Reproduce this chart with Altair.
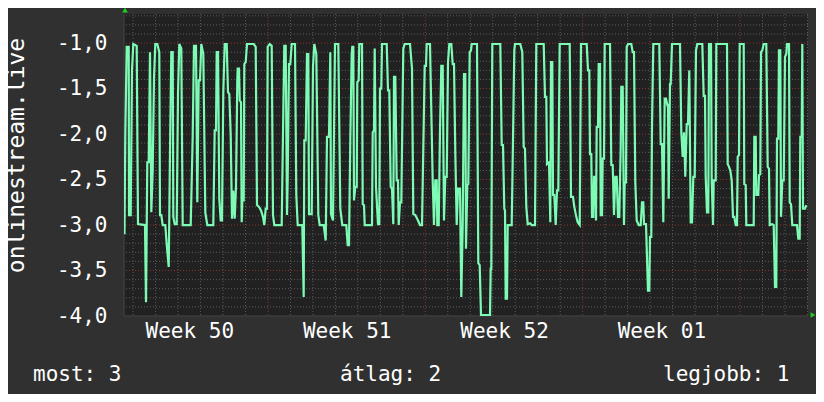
import altair as alt
import pandas as pd

# RRD sample index (one sample ~64 min) and value
t = [0.5, 1.3, 2.7, 4.7, 5, 6.7, 7, 8, 9.3, 12.7, 14, 21, 22, 23.3, 24.7, 26, 27.3, 28.7, 30, 31.3, 33.3, 35.3, 36, 37.3, 38.7, 41.3, 42.7, 44.7, 45.3, 46, 47.3, 48.7, 49.3, 50.7, 52.7, 54, 55.3, 57.3, 58.7, 66.7, 68.7, 70, 72, 73.3, 74.7, 76, 77.3, 79.3, 81.3, 83.3, 89.3, 90.7, 92, 92.7, 94, 95.3, 96.7, 98, 99.3, 100.7, 102.7, 104, 105.3, 106.7, 108, 109.3, 110.7, 112, 113.3,
     113.7, 115, 115.7, 117, 117.7, 118.3, 119.7, 120.3, 121.7, 123, 129.7, 131.7, 133, 135, 137, 139, 140.3, 141.7, 143, 143.7, 145.7, 147.7, 149, 150.3, 157.7, 159, 160.3, 161.7, 163, 163.7, 165, 166.3, 167.7, 171, 172.3, 173.7, 178.3, 179.7, 180.3, 181.7, 183, 184.3, 185, 187.7, 189, 190.3, 192.3, 194.3, 195.7, 199.7, 201.7, 203, 205, 206.3, 207, 209, 211, 214.3, 216.3, 218.3, 222.3, 223.7, 225, 226.3, 227.7,
     228.3, 229.3, 230, 231.3, 232.7, 233.3, 234.7, 235.3, 238, 238.7, 240, 240.7, 248, 248.7, 250, 250.7, 252, 254, 255.3, 256, 257.3, 258, 262.7, 264, 265.3, 266.7, 268, 269.3, 270, 271.3, 272.7, 274, 274.7, 276, 277.3, 279.3, 280.7, 286, 288, 289.3, 291.3, 294, 296, 298, 300.7, 302, 302.7, 306, 307.3, 308.7, 310, 311.3, 312.7, 313.3, 314.7, 316, 317.3, 318.7, 320, 321.3, 322.7, 324, 325.3, 327.3, 328.7, 330, 331.3, 332.7, 334, 336, 337.3, 338.7, 340, 341.3, 342, 343.3,
     344.3, 345.7, 347, 347.7, 353, 354.3, 355.7, 357, 366, 366.7, 367.3, 368.3, 376.3, 377.7, 379, 380.3, 381, 381.7, 383, 383.7, 387.7, 389, 390.3, 391, 396.3, 398.3, 399.7, 401, 402.3, 403.7, 406.3, 407.7, 411, 412.3, 419.7, 421, 422.3, 423, 425, 426.3, 427, 428.3, 429, 430.3, 431.7, 433, 434.3, 435.7, 445.7, 447, 449, 450.3, 452.3, 453.7, 455.7, 457,
     457.3, 462.7, 464, 465.3, 466, 467.3, 468, 469.3, 470, 471.3, 472, 472.7, 474, 474.7, 476, 476.7, 478, 478.7, 480, 480.7, 486, 487.3, 488.7, 490, 491.3, 492.7, 494, 495.3, 496.7, 497.3, 498.7, 500, 500.7, 502, 502.7, 504, 507.3, 508.7, 510, 511.3, 512.7, 514.7, 516.7, 518, 519.3, 520, 522, 524, 525.3, 526, 527.3, 528, 529.3, 535.3, 536.7, 538, 539.3, 540.7, 542, 543.3, 544, 544.7, 546, 546.7, 548, 556, 557.3, 558.7, 560, 561.3, 562.7, 564, 565.3, 566.7, 568, 569.3, 570.7, 572, 573.3,
     578.3, 579.7, 581, 581.7, 583, 584.3, 585, 587, 587.7, 589, 589.7, 591.7, 592.3, 603, 603.7, 605, 606.3, 607.7, 609, 610.3, 611.7, 613, 613.7, 615, 615.7, 619.7, 620.3, 621.7, 622.3, 629.7, 630.3, 631.7, 632.3, 634.3, 635, 636.3, 637, 638.3, 639.7, 642.3, 643.7, 645, 645.7, 648.3, 649.7, 651, 652.3, 653, 654.3, 655, 656.3, 657, 658.3, 659.7, 661, 662.3, 663, 665, 665.7, 667, 668.3, 673, 674.3, 675.7, 676.3, 677.7, 678.3, 679, 681, 682.3]

v = [-3.1, -2.0, -1.04, -1.04, -2.89, -2.89, -2.49, -1.30, -1.01, -1.03, -2.99, -3.0, -3.85, -2.31, -2.31, -1.10, -2.86, -2.40, -1.39, -1.01, -1.01, -1.10, -2.89, -2.89, -3.0, -3.0, -3.21, -3.46, -2.91, -2.20, -1.10, -1.10, -2.91, -2.99, -2.99, -1.56, -1.01, -1.06, -3.0, -3.0, -2.03, -1.03, -1.03, -2.75, -1.41, -1.41, -1.01, -1.12, -2.86, -3.0, -3.0, -1.96, -1.96, -1.10, -1.10, -2.71, -2.95, -2.95, -1.54, -1.01, -1.01, -1.54, -1.56, -2.01, -2.93, -2.62, -2.93, -2.58, -1.41,
     -1.28, -1.28, -1.63, -1.65, -2.97, -2.73, -2.73, -1.23, -1.21, -1.01, -1.01, -1.04, -2.78, -2.80, -2.84, -2.91, -3.0, -2.82, -2.82, -1.04, -1.01, -1.03, -2.89, -3.0, -3.0, -2.0, -1.03, -1.03, -2.89, -2.49, -1.23, -1.23, -1.01, -1.01, -2.67, -3.0, -3.0, -3.79, -2.07, -2.07, -1.12, -1.12, -2.88, -2.88, -1.26, -1.01, -1.12, -2.89, -3.0, -3.0, -3.17, -2.03, -2.03, -1.10, -2.88, -2.95, -1.01, -1.01, -2.82, -3.0, -3.0, -3.22, -3.22, -2.07, -1.12,
     -1.04, -1.04, -2.73, -2.58, -2.58, -1.43, -1.41, -1.01, -1.01, -2.77, -2.78, -3.0, -3.0, -1.98, -1.96, -1.06, -2.58, -2.99, -2.99, -1.50, -1.50, -1.01, -1.01, -1.52, -1.52, -2.58, -2.60, -2.99, -1.37, -1.37, -2.51, -2.51, -3.0, -2.75, -2.75, -1.06, -1.01, -1.01, -1.28, -2.88, -2.89, -2.95, -3.0, -3.0, -1.25, -1.25, -1.01, -1.01, -1.74, -2.51, -3.0, -2.51, -2.51, -3.0, -3.0, -1.96, -1.25, -1.25, -2.95, -2.47, -2.47, -1.21, -1.01, -1.01, -1.23, -1.23, -2.20, -3.0, -2.60, -2.60, -3.79, -3.0, -1.34, -1.34, -3.26, -2.56,
     -2.55, -1.10, -1.08, -1.01, -1.01, -3.42, -3.44, -3.99, -3.99, -3.48, -3.48, -1.01, -1.01, -2.12, -2.12, -2.82, -2.84, -3.81, -3.81, -3.0, -3.0, -2.07, -1.08, -1.01, -1.01, -1.10, -2.14, -2.16, -2.80, -2.99, -2.98, -3.0, -3.0, -1.01, -1.01, -1.59, -1.59, -2.33, -2.31, -2.97, -1.21, -1.21, -2.67, -2.67, -3.0, -2.62, -2.62, -1.01, -1.01, -2.69, -2.69, -2.80, -2.91, -2.97, -3.0, -1.01,
     -1.01, -1.01, -1.30, -1.30, -2.22, -2.22, -2.91, -2.91, -2.47, -2.47, -2.95, -1.92, -1.92, -1.23, -1.23, -2.89, -2.89, -2.27, -2.27, -1.01, -1.01, -2.34, -2.34, -2.89, -2.47, -2.47, -2.91, -2.91, -2.14, -1.48, -1.48, -3.0, -2.53, -2.53, -1.04, -1.01, -1.01, -1.10, -1.10, -2.53, -2.95, -3.0, -3.0, -2.75, -2.75, -2.99, -2.99, -3.72, -3.72, -3.13, -3.13, -1.92, -1.01, -1.01, -2.11, -2.11, -2.97, -1.61, -1.61, -1.68, -1.68, -2.71, -1.45, -1.45, -1.01, -1.01, -1.98, -2.25, -1.98, -2.47, -1.89, -1.89, -1.30, -2.97, -2.97, -2.47, -2.47, -1.08, -1.01,
     -1.01, -1.58, -1.58, -2.47, -2.86, -2.86, -1.01, -1.01, -2.51, -3.0, -2.51, -2.51, -1.01, -1.01, -2.33, -2.36, -2.40, -2.51, -2.91, -2.91, -3.0, -3.0, -2.25, -2.23, -1.01, -1.01, -2.55, -2.56, -3.0, -3.0, -2.03, -2.03, -2.67, -2.67, -2.45, -2.44, -1.10, -1.08, -1.01, -1.01, -2.36, -2.38, -3.0, -2.99, -3.0, -3.68, -3.68, -2.05, -2.05, -1.08, -1.08, -2.91, -2.51, -2.51, -1.15, -1.12, -1.01, -1.01, -2.75, -2.77, -3.0, -3.0, -3.15, -3.15, -2.03, -2.03, -1.01, -2.82, -2.82, -2.78]

week_labels = ["Week 50", "Week 51", "Week 52", "Week 01"]
week_label_days = [2.5, 9.5, 16.5, 23.5]
week_start_days = [6, 13, 20, 27]
y_major = [-4.0, -3.5, -3.0, -2.5, -2.0, -1.5, -1.0]
legend_texts = ["most: 3", "átlag: 2", "legjobb: 1"]
axis_title = "onlinestream.live"

SAMPLES_PER_DAY = 22.48
FIRST_MIDNIGHT = 9.1
N_SAMPLES = 684

day = [(ti - FIRST_MIDNIGHT) / SAMPLES_PER_DAY for ti in t]
df = pd.DataFrame({"day": day, "value": v})

x_dom = [(0 - FIRST_MIDNIGHT) / SAMPLES_PER_DAY, (N_SAMPLES - FIRST_MIDNIGHT) / SAMPLES_PER_DAY]
y_dom = [-4.0, -0.68]
xs = alt.Scale(domain=x_dom, nice=False, zero=False)
ys = alt.Scale(domain=y_dom, nice=False, zero=False)

minor_x = [d for d in range(0, 31) if d not in week_start_days]
minor_y = [round(-4.0 + 0.1 * i, 1) for i in range(1, 34)]
minor_y = [y for y in minor_y if y not in y_major]

FONT = "DejaVu Sans Mono"
GRID = "#5c5c5c"
RED = "#8c3434"
LINE = "#7dfbb5"

gx = alt.Chart(pd.DataFrame({"d": minor_x})).mark_rule(color=GRID, strokeDash=[1, 2], strokeWidth=1).encode(x=alt.X("d:Q", scale=xs))
gy = alt.Chart(pd.DataFrame({"y": minor_y})).mark_rule(color=GRID, strokeDash=[1, 2], strokeWidth=1).encode(y=alt.Y("y:Q", scale=ys))
rx = alt.Chart(pd.DataFrame({"d": week_start_days})).mark_rule(color=RED, strokeDash=[1, 2], strokeWidth=1).encode(x=alt.X("d:Q", scale=xs))
ry = alt.Chart(pd.DataFrame({"y": y_major[1:]})).mark_rule(color=RED, strokeDash=[1, 2], strokeWidth=1).encode(y=alt.Y("y:Q", scale=ys))

label_expr = "{" + ",".join(f"'{d}':'{l}'" for d, l in zip(week_label_days, week_labels)) + "}[toString(datum.value)]"

line = alt.Chart(df).mark_line(color=LINE, strokeWidth=2.2, clip=True).encode(
    x=alt.X("day:Q", scale=xs, axis=alt.Axis(
        values=week_label_days, labelExpr=label_expr, grid=False, ticks=False, domain=False,
        labelFont=FONT, labelFontSize=21, labelColor="#ffffff", labelPadding=4, title=None,
        labelBaseline="top")),
    y=alt.Y("value:Q", scale=ys, axis=alt.Axis(
        values=y_major, grid=False, ticks=False, domain=False,
        labelExpr="replace((datum.value < 0 ? '-' : '') + format(abs(datum.value), '.1f'), '.', ',')",
        labelFont=FONT, labelFontSize=21, labelColor="#ffffff", labelPadding=17,
        title=axis_title, titleFont=FONT, titleFontSize=23, titleFontWeight="normal",
        titleColor="#ffffff", titleX=-108, titleY=141, titleAlign="center", titleBaseline="middle",
        titleAngle=-90)),
)

edge_left = alt.Chart(pd.DataFrame({"d": [x_dom[0]]})).mark_rule(color="#3c3c3c", strokeWidth=1.5).encode(x=alt.X("d:Q", scale=xs))
edge_bottom = alt.Chart(pd.DataFrame({"y": [-4.0]})).mark_rule(color="#3c3c3c", strokeWidth=1.5).encode(y=alt.Y("y:Q", scale=ys))

arrow_up = alt.Chart(pd.DataFrame({"d": [x_dom[0]], "y": [y_dom[1]]})).mark_point(
    shape="triangle-up", filled=True, color="#22cc22", size=32, opacity=1, yOffset=-4, xOffset=1
).encode(x=alt.X("d:Q", scale=xs), y=alt.Y("y:Q", scale=ys))
arrow_right = alt.Chart(pd.DataFrame({"d": [x_dom[1]], "y": [-4.0]})).mark_point(
    shape="triangle-right", filled=True, color="#22cc22", size=32, opacity=1, xOffset=5, yOffset=-1
).encode(x=alt.X("d:Q", scale=xs), y=alt.Y("y:Q", scale=ys))

legend_x = [25, 332, 655]
legend_layers = [
    alt.Chart(pd.DataFrame({"t": [txt]})).mark_text(
        font=FONT, fontSize=21, color="#ffffff", align="left", baseline="middle"
    ).encode(x=alt.value(lx - 116), y=alt.value(361), text="t:N")
    for txt, lx in zip(legend_texts, legend_x)
]

chart = alt.layer(gx, gy, rx, ry, edge_left, edge_bottom, line, arrow_up, arrow_right, *legend_layers).properties(
    width=684, height=302,
    autosize=alt.AutoSizeParams(type="none"),
    padding={"left": 116, "top": 6, "right": 8, "bottom": 78},
    background="#303030",
).configure_view(fill="#212121", stroke=None)

chart.save("out.html", embed_options={"renderer": "svg", "actions": False})
